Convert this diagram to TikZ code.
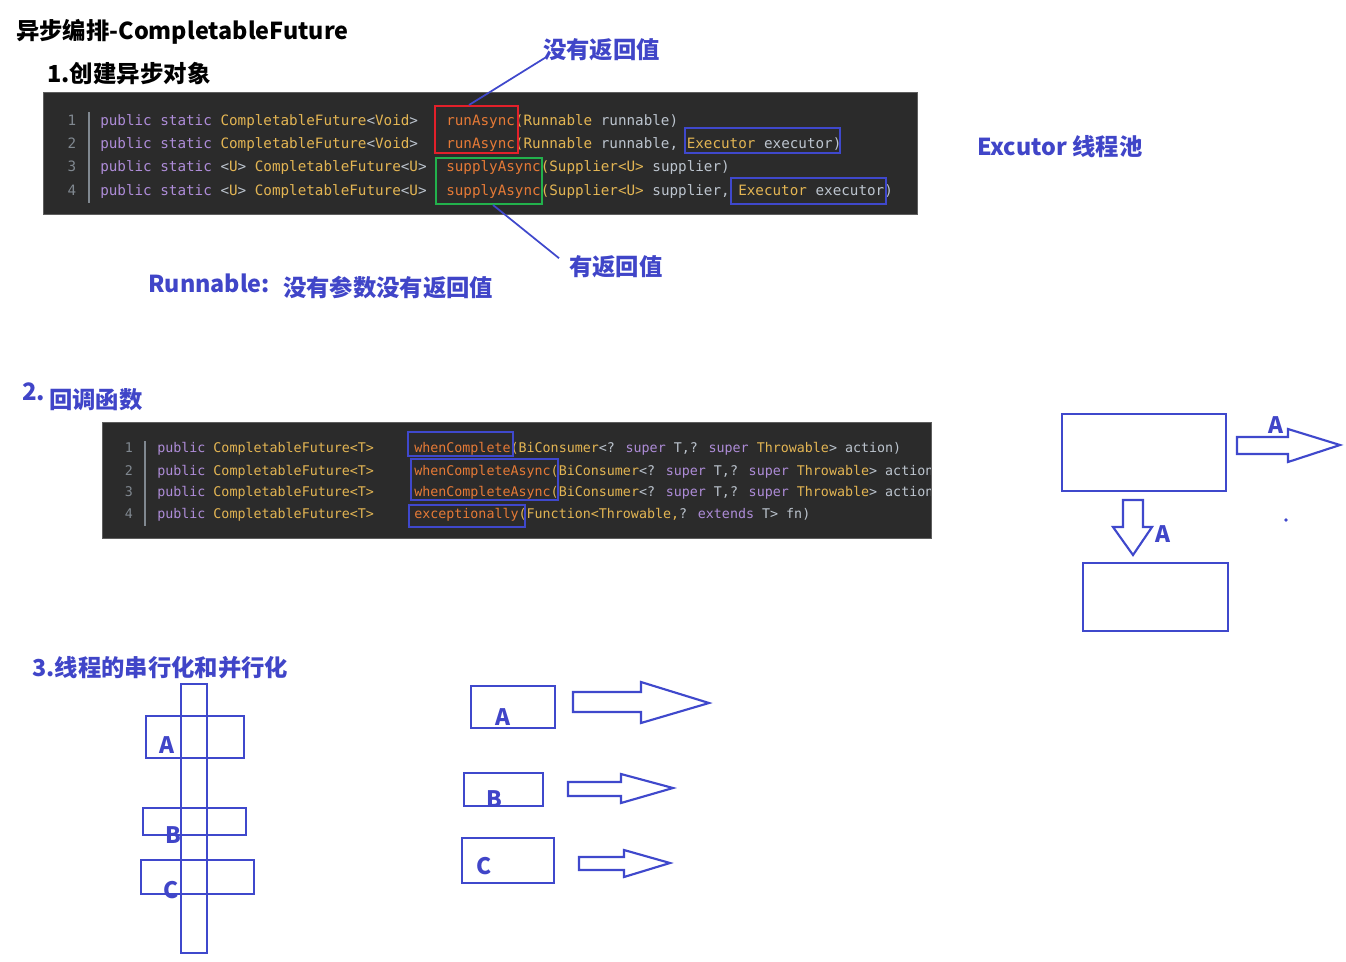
\documentclass[tikz,border=0pt]{standalone}
\usepackage{fontspec}
\usetikzlibrary{fit}
\newfontfamily\cjk{Noto Sans CJK SC}
\newfontfamily\codefont{DejaVu Sans Mono}
\definecolor{myblue}{HTML}{3F48CC}
\definecolor{txtblue}{HTML}{4045C8}
\definecolor{myred}{HTML}{E3202A}
\definecolor{mygreen}{HTML}{22B14C}
\definecolor{codebgc}{HTML}{2B2B2B}
\definecolor{codeedge}{HTML}{5E5E5E}
\definecolor{ckw}{HTML}{AE8CD8}
\definecolor{cty}{HTML}{E3B553}
\definecolor{cmt}{HTML}{E67A36}
\definecolor{cpl}{HTML}{BCC4CE}
\definecolor{cln}{HTML}{808890}
\newcommand\ccKw[1]{\textcolor{ckw}{#1}}
\newcommand\ccTy[1]{\textcolor{cty}{#1}}
\newcommand\ccMt[1]{\textcolor{cmt}{#1}}
\newcommand\ccPl[1]{\textcolor{cpl}{#1}}
\tikzset{
  hdr/.style={inner sep=0, anchor=base west, text=black, font=\cjk\bfseries\fontsize{17.6pt}{20pt}\selectfont},
  lbl/.style={inner sep=0, anchor=base west, text=txtblue, font=\cjk\bfseries\fontsize{17.5pt}{20pt}\selectfont},
  letter/.style={inner sep=0, anchor=base, text=txtblue, font=\cjk\bfseries\fontsize{17pt}{20pt}\selectfont},
  codebg/.style={fill=codebgc, draw=codeedge, line width=0.6pt, inner sep=0},
  codeA/.style={inner sep=0, anchor=base west, font=\codefont\fontsize{10.7pt}{12pt}\selectfont},
  codeB/.style={inner sep=0, anchor=base west, font=\codefont\fontsize{10pt}{12pt}\selectfont},
  lnA/.style={inner sep=0, anchor=base, text=cln, font=\codefont\fontsize{10.7pt}{12pt}\selectfont},
  lnB/.style={inner sep=0, anchor=base, text=cln, font=\codefont\fontsize{10pt}{12pt}\selectfont},
  hbox/.style={draw=#1, line width=1.5pt, inner sep=0},
  bx/.style={draw=myblue, line width=1.6pt, inner sep=0},
  conn/.style={draw=myblue, line width=1.3pt},
  barrow/.style={draw=myblue, line width=1.6pt, line join=miter},
}
\begin{document}
\begin{tikzpicture}[x=0.75pt, y=-0.75pt]
\useasboundingbox (0,0) rectangle (1346,961);
\fill[white] (0,0) rectangle (1346,961);

% ---------- headings ----------
\node[hdr, font=\cjk\bfseries\fontsize{17.5pt}{20pt}\selectfont] (title) at (16,39) {异步编排-CompletableFuture};
\node[hdr] (h1) at (47,82) {1.创建异步对象};

% ---------- code block 1 ----------
\node[codebg, fit={(43,92) (917,214)}] (code1) {};
\draw[cln, line width=0.8pt] (89,112) -- (89,203);
\node[lnA] (n11) at (72,125) {1};
\node[lnA] (n12) at (72,148) {2};
\node[lnA] (n13) at (72,171) {3};
\node[lnA] (n14) at (72,195) {4};
\node[codeA] (p11) at (100,125) {\ccKw{public static} \ccTy{CompletableFuture}\ccPl{<}\ccTy{Void}\ccPl{>}};
\node[codeA] (p12) at (100,148) {\ccKw{public static} \ccTy{CompletableFuture}\ccPl{<}\ccTy{Void}\ccPl{>}};
\node[codeA] (p13) at (100,171) {\ccKw{public static} \ccPl{<}\ccTy{U}\ccPl{>} \ccTy{CompletableFuture}\ccPl{<}\ccTy{U}\ccPl{>}};
\node[codeA] (p14) at (100,195) {\ccKw{public static} \ccPl{<}\ccTy{U}\ccPl{>} \ccTy{CompletableFuture}\ccPl{<}\ccTy{U}\ccPl{>}};
\node[codeA] (m11) at (446,125) {\ccMt{runAsync}\ccTy{(Runnable} \ccPl{runnable)}};
\node[codeA] (m12) at (446,148) {\ccMt{runAsync}\ccTy{(Runnable} \ccPl{runnable,} \ccTy{Executor} \ccPl{executor)}};
\node[codeA] (m13) at (446,171) {\ccMt{supplyAsync}\ccTy{(Supplier<U>} \ccPl{supplier)}};
\node[codeA] (m14) at (446,195) {\ccMt{supplyAsync}\ccTy{(Supplier<U>} \ccPl{supplier,} \ccTy{Executor} \ccPl{executor)}};

\node[hbox=myred, fit={(435,106) (518,153)}] (redbox) {};
\node[hbox=mygreen, fit={(436,158) (542,204)}] (greenbox) {};
\node[hbox=myblue, fit={(685,128) (840,153)}] (ex1) {};
\node[hbox=myblue, fit={(731,178) (886,204)}] (ex2) {};

\node[lbl] (noret) at (543,58.5) {没有返回值};
\node[lbl] (ret) at (569,275.5) {有返回值};
\draw[conn] ([xshift=-5.6pt]redbox.north) -- ([xshift=1.5pt,yshift=2.5pt]noret.south west);
\draw[conn] ([xshift=3pt]greenbox.south) -- ([xshift=-7.5pt,yshift=-2.2pt]ret.north west);

\node[lbl] (excutor) at (977,155) {Excutor 线程池};
\node[lbl] (runn) at (148,292) {Runnable:};
\node[lbl] (runnd) at (283,296) {没有参数没有返回值};

% ---------- section 2 ----------
\node[lbl, font=\cjk\bfseries\fontsize{18pt}{20pt}\selectfont] (h2num) at (22,400) {2.};
\node[lbl] (h2) at (49,408) {回调函数};

\node[codebg, fit={(102,422) (931,538)}] (code2) {};
\draw[cln, line width=0.8pt] (145,441) -- (145,526);
\node[lnB] (n21) at (129,452) {1};
\node[lnB] (n22) at (129,475) {2};
\node[lnB] (n23) at (129,496) {3};
\node[lnB] (n24) at (129,518) {4};
\node[codeB] (p21) at (157,452) {\ccKw{public} \ccTy{CompletableFuture<T>}};
\node[codeB] (p22) at (157,475) {\ccKw{public} \ccTy{CompletableFuture<T>}};
\node[codeB] (p23) at (157,496) {\ccKw{public} \ccTy{CompletableFuture<T>}};
\node[codeB] (p24) at (157,518) {\ccKw{public} \ccTy{CompletableFuture<T>}};
\begin{scope}
\clip (102,422) rectangle (930,538);
\node[codeB] (m21) at (414,452) {\ccMt{whenComplete}\ccTy{(BiConsumer}\ccPl{<?} \ccKw{super} \ccPl{T,?} \ccKw{super} \ccTy{Throwable}\ccPl{>} \ccPl{action)}};
\node[codeB] (m22) at (414,475) {\ccMt{whenCompleteAsync}\ccTy{(BiConsumer}\ccPl{<?} \ccKw{super} \ccPl{T,?} \ccKw{super} \ccTy{Throwable}\ccPl{>} \ccPl{action)}};
\node[codeB] (m23) at (414,496) {\ccMt{whenCompleteAsync}\ccTy{(BiConsumer}\ccPl{<?} \ccKw{super} \ccPl{T,?} \ccKw{super} \ccTy{Throwable}\ccPl{>} \ccPl{action, Executor executor)}};
\node[codeB] (m24) at (414,518) {\ccMt{exceptionally}\ccTy{(Function<Throwable,}\ccPl{?} \ccKw{extends} \ccPl{T> fn)}};
\end{scope}
\node[hbox=myblue, fit={(408,432) (513,456)}] (wc1) {};
\node[hbox=myblue, fit={(411,459) (558,500)}] (wc2) {};
\node[hbox=myblue, fit={(409,505) (525,527)}] (exc) {};

% ---------- right side ----------
\node[bx, fit={(1062,414) (1226,491)}] (r1) {};
\node[bx, fit={(1083,563) (1228,631)}] (r2) {};
\draw[barrow] (1237,437) -- (1288,437) -- (1288,429) -- (1340,445) -- (1288,462) -- (1288,454) -- (1237,454) -- cycle;
\node[letter] (ra) at (1276,433) {A};
\draw[barrow] (1123,500) -- (1143,500) -- (1143,527) -- (1152,527) -- (1133,555) -- (1113,527) -- (1123,527) -- cycle;
\node[letter] (da) at (1163,542) {A};
\fill[myblue] (1286,520) circle (1.4pt);

% ---------- section 3 ----------
\node[lbl] (h3) at (32,676) {3.线程的串行化和并行化};

\node[bx, fit={(181,684) (207,953)}] (vbar) {};
\node[bx, fit={(146,716) (244,758)}] (sa) {};
\node[bx, fit={(143,808) (246,835)}] (sb) {};
\node[bx, fit={(141,860) (254,894)}] (sc) {};
\node[letter] (la) at (167,753) {A};
\node[letter] (lb) at (173,843) {B};
\node[letter] (lc) at (171,898) {C};

\node[bx, fit={(471,686) (555,728)}] (pa) {};
\node[bx, fit={(464,773) (543,806)}] (pb) {};
\node[bx, fit={(462,838) (554,883)}] (pc) {};
\node[letter] (pla) at (503,725) {A};
\node[letter] (plb) at (494,807) {B};
\node[letter] (plc) at (484,874) {C};
\draw[barrow] (573,692) -- (641,692) -- (641,682) -- (709,703) -- (641,723) -- (641,712) -- (573,712) -- cycle;
\draw[barrow] (568,782) -- (621,782) -- (621,774) -- (673,788) -- (621,803) -- (621,796) -- (568,796) -- cycle;
\draw[barrow] (579,857) -- (624,857) -- (624,850) -- (670,863) -- (624,877) -- (624,870) -- (579,870) -- cycle;
\end{tikzpicture}
\end{document}
